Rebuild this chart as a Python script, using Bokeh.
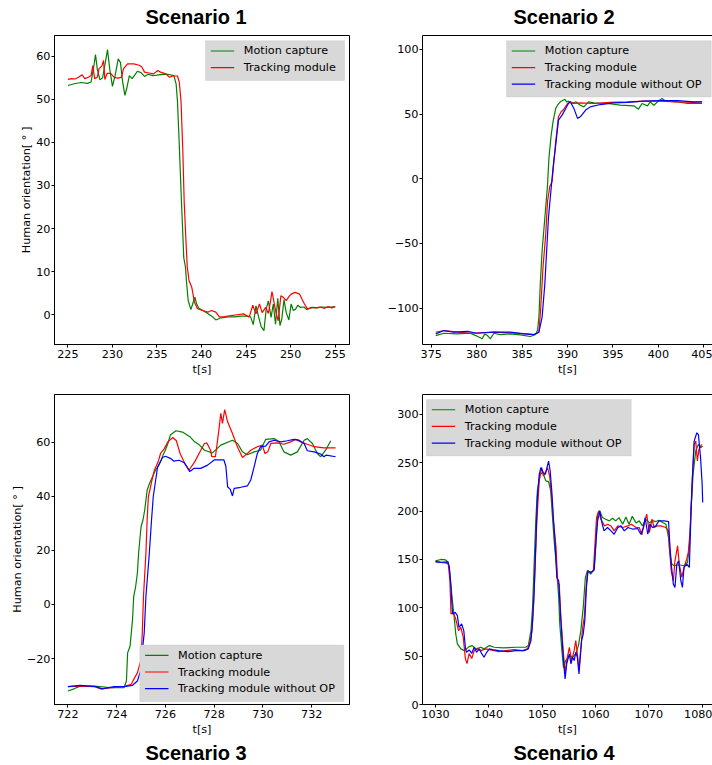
from bokeh.plotting import figure
from bokeh.layouts import column, row
from bokeh.models import Range1d, FixedTicker, LinearAxis, BoxAnnotation, Label
from bokeh.embed import file_html
from bokeh.resources import INLINE

# ---------------- data ----------------
SERIES_NAMES = ["Motion capture", "Tracking module", "Tracking module without OP"]
SERIES_COLORS = ["#008000", "#ff0000", "#0000ff"]
TITLES = ["Scenario 1", "Scenario 2", "Scenario 3", "Scenario 4"]
X_LABEL = "t[s]"
Y_LABEL = "Human orientation[ ° ]"

# Scenario 1
s1_mocap_t = [225.0, 225.7, 226.5, 227.2, 227.6, 227.9, 228.1, 228.3, 228.6, 228.9, 229.2, 229.45, 229.7, 230.0,
              230.3, 230.65, 230.9, 231.15, 231.4, 231.6, 231.9, 232.2, 232.5, 232.8, 233.2, 233.6, 234.0, 234.5,
              235.0, 235.6, 236.2, 236.9, 237.15, 237.3, 237.45, 237.6, 237.75, 237.9, 238.0, 238.2, 238.3, 238.5,
              238.8, 239.0, 239.25, 239.45, 239.7, 240.3, 240.9, 241.3, 241.6, 242.2, 243.0, 243.7, 244.4, 245.0,
              245.5, 245.8, 246.1, 246.4, 246.7, 247.0, 247.25, 247.5, 247.8, 248.05, 248.3, 248.55, 248.8, 249.0,
              249.25, 249.5, 249.8, 250.05, 250.3, 250.55, 250.8, 251.1, 251.5, 251.8, 252.1, 252.5, 253.0, 253.5,
              254.0, 254.5, 255.0]
s1_mocap_v = [53.2, 53.6, 53.9, 53.7, 54.0, 57.5, 60.4, 57.0, 54.5, 55.0, 58.5, 61.5, 57.0, 53.0,
              55.5, 59.4, 58.5, 54.0, 50.9, 52.5, 55.5, 54.8, 55.6, 56.5, 56.2, 55.3, 55.8, 55.5,
              55.6, 55.8, 55.8, 55.5, 53.5, 49.4, 42.0, 34.0, 26.0, 18.7, 13.3, 11.0, 7.9, 3.3,
              1.2, 2.5, 4.1, 2.5, 1.5, 0.8, 0.0, -0.6, -1.2, -0.7, -0.5, -0.5, -0.3, -0.3,
              -0.5, -2.3, 2.1, -0.5, -2.8, -3.7, 1.3, 3.2, -0.6, 2.5, -2.2, 3.8, -2.5, -1.0,
              3.5, 0.5, -1.2, 2.5, 1.0, 1.3, 2.2, 1.7, 1.8, 1.2, 1.5, 1.7, 1.6, 1.8,
              1.7, 1.8, 1.9]
s1_track_t = [225.0, 225.4, 225.8, 226.2, 226.6, 226.9, 227.3, 227.6, 227.8, 228.0, 228.3, 228.5, 228.8, 229.0,
              229.15, 229.4, 229.8, 230.2, 230.6, 231.0, 231.25, 231.7, 232.4, 233.0, 233.3, 233.6, 234.1, 234.6,
              235.1, 235.4, 236.0, 236.4, 236.8, 237.3, 237.5, 237.7, 237.9, 238.05, 238.25, 238.4, 238.6, 238.9,
              239.2, 239.55, 240.1, 240.7, 241.1, 241.6, 242.0, 242.6, 243.3, 244.0, 244.7, 245.35, 245.75, 246.1,
              246.5, 246.8, 247.2, 247.5, 247.75, 247.9, 248.1, 248.35, 248.6, 248.9, 249.2, 249.5, 249.8, 250.05,
              250.5, 251.0, 251.3, 251.55, 251.9, 252.3, 252.8, 253.3, 253.8, 254.2, 254.6, 255.0]
s1_track_v = [54.6, 54.8, 54.7, 55.1, 55.7, 54.8, 55.1, 55.5, 57.8, 54.8, 55.1, 57.1, 57.7, 59.0,
              54.6, 56.0, 56.0, 55.1, 54.9, 55.1, 57.1, 58.2, 58.2, 57.9, 57.5, 56.3, 56.1, 55.9,
              56.7, 56.3, 55.9, 55.1, 55.4, 55.4, 54.0, 49.4, 37.9, 26.3, 17.1, 11.0, 7.9, 6.4,
              2.9, 1.4, 1.0, 0.6, 1.0, 0.6, -0.5, -0.4, -0.2, 0.0, 0.2, -0.5, 2.2, 0.2,
              2.5, 0.5, 1.7, 0.3, 3.3, 5.4, 3.3, 0.5, -1.4, 4.4, 4.0, 3.3, 4.2, 4.8,
              5.2, 4.8, 3.5, 2.5, 1.3, 1.7, 1.6, 1.8, 1.5, 1.9, 1.6, 1.9]

# Scenario 2
s2_mocap_t = [375.5, 376.4, 377.8, 379.3, 379.9, 380.6, 380.9, 381.2, 381.5, 381.9, 382.6, 383.7, 384.8, 385.9,
              386.5, 386.7, 386.85, 387.0, 387.2, 387.5, 387.8, 387.95, 388.2, 388.4, 388.7, 388.9, 389.2, 389.7,
              389.9, 390.1, 390.5, 390.9, 391.4, 391.8, 392.3, 392.9, 394.4, 395.8, 397.3, 397.8, 398.2, 398.8,
              399.1, 399.5, 399.9, 400.4, 400.8, 402.1, 403.2, 404.8]
s2_mocap_v = [-121.3, -119.5, -120.0, -119.5, -121.3, -123.8, -120.0, -121.3, -123.8, -119.5, -120.5, -120.0, -120.8, -122.0,
              -120.5, -117.0, -107.0, -81.5, -55.9, -30.3, -4.6, 15.9, 33.8, 44.0, 54.4, 56.9, 59.5, 61.5,
              59.5, 60.0, 58.2, 59.5, 56.9, 55.6, 59.5, 58.7, 58.2, 56.9, 56.4, 53.8, 58.2, 56.4,
              59.5, 56.9, 59.5, 62.0, 60.0, 59.5, 58.2, 58.2]
s2_track_t = [375.5, 376.4, 377.9, 379.3, 381.9, 384.5, 385.6, 386.3, 386.85, 387.05, 387.3, 387.6, 387.8, 388.05,
              388.3, 388.5, 388.7, 388.9, 389.0, 389.3, 389.6, 390.0, 390.3, 390.7, 391.4, 392.9, 394.7, 396.6,
              398.4, 400.2, 402.0, 403.9, 404.8]
s2_track_v = [-118.7, -117.4, -118.7, -119.5, -118.7, -119.5, -120.0, -120.5, -118.7, -100.0, -68.5, -42.9, -17.4, -5.9,
              -2.1, 13.3, 28.7, 41.5, 47.9, 51.8, 53.8, 58.2, 59.5, 58.2, 58.7, 58.2, 59.0, 59.5,
              60.0, 60.0, 59.5, 59.0, 59.5]
s2_noop_t = [375.5, 376.4, 377.5, 379.0, 380.0, 381.9, 383.7, 385.2, 386.3, 386.85, 387.2, 387.5, 387.7, 387.9,
             388.2, 388.4, 388.7, 388.9, 389.0, 389.4, 389.8, 390.1, 390.3, 390.7, 391.1, 391.4, 392.0, 392.5,
             393.6, 395.1, 396.6, 398.4, 400.2, 402.1, 403.9, 404.8]
s2_noop_v = [-120.0, -117.4, -118.7, -118.0, -119.5, -118.7, -118.7, -120.0, -120.5, -118.7, -107.0, -81.5, -55.9, -30.3,
             -7.2, 8.2, 26.2, 39.0, 45.4, 49.2, 54.4, 58.2, 59.5, 54.4, 46.7, 47.9, 53.1, 55.6,
             57.4, 58.7, 59.0, 60.0, 60.5, 60.5, 59.5, 59.5]

# Scenario 3
s3_mocap_t = [722.0, 722.25, 722.5, 723.1, 723.8, 724.3, 724.4, 724.45, 724.55, 724.6, 724.65, 724.7, 724.78, 724.85,
              724.9, 725.0, 725.08, 725.15, 725.25, 725.35, 725.5, 725.6, 725.7, 725.8, 725.9, 726.0, 726.1, 726.2,
              726.43, 726.7, 727.0, 727.2, 727.4, 727.6, 727.93, 728.27, 728.75, 728.96, 729.16, 729.36, 729.64, 729.9,
              730.11, 730.46, 730.66, 730.86, 731.14, 731.41, 731.69, 731.82, 732.03, 732.23, 732.37, 732.57, 732.78]
s3_mocap_v = [-32.0, -31.2, -30.2, -30.2, -30.8, -30.8, -28.3, -17.9, -15.4, -10.5, -5.6, 3.0, 6.7, 11.6,
              19.0, 28.8, 31.2, 34.9, 42.3, 44.8, 47.8, 49.7, 50.9, 52.7, 55.2, 57.1, 59.5, 62.6,
              64.2, 63.7, 62.0, 60.1, 58.9, 57.0, 56.0, 58.9, 60.7, 59.5, 56.4, 55.3, 56.4, 57.0,
              61.0, 61.3, 60.1, 56.4, 55.2, 56.4, 60.7, 61.3, 59.5, 55.8, 54.6, 57.0, 60.5]
s3_track_t = [722.0, 722.5, 723.1, 723.35, 723.8, 724.3, 724.6, 724.7, 724.85, 725.0, 725.05, 725.1, 725.2, 725.25,
              725.3, 725.45, 725.55, 725.7, 725.8, 725.95, 726.1, 726.3, 726.45, 726.6, 726.8, 726.97, 727.2, 727.45,
              727.6, 727.7, 727.85, 727.9, 728.05, 728.2, 728.27, 728.34, 728.43, 728.55, 728.75, 728.95, 729.16, 729.3,
              729.5, 729.77, 729.98, 730.08, 730.2, 730.32, 730.6, 730.86, 731.14, 731.34, 731.55, 731.82, 732.1, 732.5,
              732.98]
s3_track_v = [-30.4, -30.2, -30.4, -31.2, -30.8, -30.4, -29.5, -27.7, -25.3, -20.4, -10.5, 3.0, 19.0, 31.2,
              39.8, 46.0, 49.7, 52.7, 55.8, 57.5, 60.1, 61.7, 60.5, 55.8, 52.0, 49.7, 52.7, 57.0,
              59.5, 59.7, 57.0, 54.6, 54.6, 65.0, 70.6, 66.9, 72.0, 67.5, 63.2, 58.3, 54.3, 55.3,
              57.0, 58.3, 58.9, 55.8, 56.4, 59.5, 59.7, 59.2, 60.1, 61.0, 60.1, 59.2, 58.3, 57.9,
              57.9]
s3_noop_t = [722.0, 722.5, 723.15, 723.4, 723.9, 724.3, 724.65, 724.85, 725.0, 725.03, 725.13, 725.2, 725.33, 725.43,
             725.5, 725.6, 725.68, 725.88, 726.0, 726.2, 726.34, 726.56, 726.77, 727.0, 727.18, 727.45, 727.73, 728.0,
             728.4, 728.48, 728.55, 728.66, 728.75, 728.82, 729.09, 729.36, 729.5, 729.64, 729.77, 729.9, 730.11, 730.25,
             730.46, 730.73, 731.0, 731.27, 731.48, 731.69, 731.82, 732.1, 732.37, 732.5, 732.6, 732.98]
s3_noop_v = [-30.4, -29.9, -30.4, -31.2, -30.4, -30.4, -29.9, -28.3, -24.0, -19.1, -10.5, 3.0, 17.7, 31.2,
             39.8, 46.0, 50.9, 54.3, 54.8, 54.0, 53.0, 53.3, 52.4, 49.1, 50.3, 50.3, 51.5, 53.4,
             53.4, 51.0, 43.5, 42.5, 40.1, 42.9, 43.3, 43.8, 46.0, 50.9, 55.8, 58.3, 58.5, 60.1,
             60.7, 60.1, 60.5, 61.0, 60.7, 59.5, 56.8, 56.4, 55.6, 54.6, 55.2, 54.6]

# Scenario 4
s4_mocap_t = [1030.0, 1031.0, 1031.9, 1032.4, 1032.7, 1033.1, 1033.5, 1033.8, 1034.1, 1034.75, 1035.4, 1035.7, 1036.3,
              1036.9, 1037.6, 1038.5, 1039.1, 1040.1, 1041.0, 1042.6, 1045.1, 1046.9, 1047.4, 1047.9, 1048.2, 1048.5,
              1048.8, 1049.1, 1049.6, 1050.1, 1050.7, 1051.2, 1051.6, 1051.9, 1052.25, 1052.7, 1053.1, 1053.3, 1053.7,
              1054.0, 1054.4, 1055.1, 1055.7, 1056.3, 1056.8, 1057.25, 1057.7, 1058.1, 1058.5, 1059.1, 1059.75, 1060.1,
              1060.4, 1060.8, 1061.3, 1061.9, 1062.6, 1063.2, 1063.8, 1064.4, 1065.1, 1065.7, 1066.3, 1066.9, 1067.6,
              1068.2, 1068.8, 1069.4, 1070.1, 1070.7, 1071.3, 1071.9, 1072.6, 1073.2, 1073.7, 1073.9, 1074.3, 1074.75,
              1075.7, 1076.6, 1077.25, 1077.6, 1077.9, 1078.3, 1078.8, 1079.3, 1079.75, 1080.1]
s4_mocap_v = [148.6, 150.0, 149.5, 146.9, 134.9, 110.8, 90.1, 72.9, 62.6, 57.5, 55.7, 57.0, 59.9,
              60.9, 57.5, 59.2, 57.5, 60.9, 59.2, 58.5, 59.2, 59.2, 60.9, 76.4, 100.5, 145.2,
              190.0, 220.9, 238.1, 239.8, 231.2, 230.5, 220.9, 196.8, 169.3, 141.7, 110.8, 83.3, 55.7,
              38.0, 45.4, 50.6, 48.9, 52.3, 60.9, 76.4, 100.5, 131.4, 138.3, 134.9, 140.0, 169.3,
              196.8, 200.2, 193.3, 191.6, 189.9, 192.7, 189.9, 193.3, 186.5, 194.0, 186.5, 194.6, 187.8,
              189.9, 184.7, 191.6, 187.8, 190.2, 189.2, 190.6, 188.2, 186.5, 172.7, 159.0, 145.2, 143.5,
              144.5, 143.5, 146.9, 162.4, 200.2, 238.1, 262.2, 269.0, 265.6, 267.4]
s4_track_t = [1030.0, 1031.0, 1031.9, 1032.4, 1032.7, 1032.9, 1033.3, 1033.8, 1034.3, 1034.75, 1035.2, 1035.6, 1035.9,
              1036.3, 1036.8, 1037.25, 1037.9, 1038.5, 1039.4, 1040.3, 1041.9, 1043.2, 1044.75, 1046.3, 1047.25, 1047.7,
              1048.1, 1048.4, 1048.7, 1049.0, 1049.45, 1049.9, 1050.25, 1050.6, 1051.0, 1051.4, 1051.8, 1052.1, 1052.6,
              1052.9, 1053.2, 1053.5, 1053.9, 1054.3, 1054.6, 1055.1, 1055.5, 1056.0, 1056.3, 1056.6, 1056.9, 1057.25,
              1057.6, 1057.9, 1058.2, 1058.5, 1059.1, 1059.6, 1059.9, 1060.2, 1060.6, 1061.0, 1061.7, 1062.3, 1062.9,
              1063.5, 1064.2, 1065.1, 1066.1, 1066.7, 1067.6, 1068.2, 1068.7, 1069.1, 1069.6, 1070.1, 1070.6, 1071.0,
              1071.6, 1072.25, 1073.2, 1073.7, 1073.9, 1074.2, 1074.6, 1074.9, 1075.4, 1075.7, 1076.2, 1076.6, 1077.1,
              1077.4, 1077.75, 1078.1, 1078.5, 1078.8, 1079.1, 1079.4, 1079.9]
s4_track_v = [148.0, 146.9, 146.5, 145.2, 128.0, 93.6, 95.3, 88.4, 76.4, 79.8, 69.5, 47.5, 42.3,
              52.6, 47.5, 55.7, 57.5, 55.7, 57.5, 56.5, 54.7, 55.7, 56.8, 55.7, 57.5, 64.3,
              76.4, 103.9, 145.2, 190.0, 231.2, 245.0, 236.4, 239.8, 245.0, 236.4, 214.0, 190.0, 162.4,
              126.3, 124.5, 90.1, 59.2, 31.7, 45.4, 59.2, 45.4, 55.7, 66.0, 52.3, 35.1, 59.2,
              79.8, 90.1, 117.6, 138.3, 136.6, 138.3, 165.8, 193.3, 200.2, 191.6, 184.7, 186.5, 184.7,
              179.6, 184.7, 183.0, 184.7, 186.5, 183.0, 183.0, 175.5, 186.5, 196.8, 177.8, 191.6, 183.0,
              184.7, 184.7, 183.0, 179.6, 159.0, 138.3, 128.0, 148.6, 164.1, 145.2, 131.4, 141.7, 150.3,
              157.2, 179.6, 227.8, 269.0, 272.4, 251.8, 263.9, 269.0]
s4_noop_t = [1030.0, 1031.0, 1032.3, 1032.6, 1032.9, 1033.2, 1033.7, 1034.1, 1034.4, 1034.9, 1035.3, 1035.6, 1035.8,
             1036.3, 1036.8, 1037.25, 1037.7, 1038.2, 1038.7, 1039.1, 1039.6, 1040.1, 1041.0, 1041.9, 1043.5, 1045.1,
             1046.6, 1047.4, 1047.9, 1048.2, 1048.5, 1048.8, 1049.1, 1049.45, 1049.75, 1050.2, 1050.6, 1050.9, 1051.2,
             1051.5, 1051.8, 1052.1, 1052.4, 1052.75, 1053.1, 1053.4, 1053.7, 1054.0, 1054.3, 1054.6, 1055.1, 1055.4,
             1055.7, 1056.0, 1056.3, 1056.6, 1056.9, 1057.4, 1057.7, 1058.0, 1058.3, 1058.6, 1059.1, 1059.75, 1060.1,
             1060.4, 1060.8, 1061.2, 1061.6, 1062.25, 1062.9, 1063.5, 1064.2, 1064.8, 1065.4, 1066.1, 1067.0, 1067.9,
             1068.5, 1069.0, 1069.3, 1069.8, 1070.2, 1070.7, 1071.3, 1071.9, 1072.9, 1073.7, 1073.9, 1074.2, 1074.6,
             1074.9, 1075.25, 1075.6, 1076.0, 1076.3, 1076.6, 1077.1, 1077.6, 1077.9, 1078.2, 1078.5, 1079.0, 1079.3,
             1079.7, 1080.0, 1080.1]
s4_noop_v = [147.6, 146.9, 147.6, 141.7, 121.1, 93.6, 95.3, 91.9, 79.8, 83.3, 76.4, 59.2, 54.0,
             56.4, 53.0, 59.2, 54.0, 57.5, 52.3, 48.9, 54.0, 57.5, 56.4, 55.7, 54.7, 55.7,
             55.7, 57.5, 66.0, 86.7, 117.6, 165.8, 214.0, 238.1, 245.0, 239.8, 238.1, 245.0, 251.8,
             241.5, 220.9, 193.3, 169.3, 131.4, 128.0, 97.0, 69.5, 45.4, 26.5, 42.0, 52.3, 42.0,
             48.9, 45.4, 54.0, 48.9, 31.7, 66.0, 72.9, 86.7, 121.1, 138.3, 136.6, 139.0, 169.3,
             190.0, 200.2, 188.2, 179.6, 183.0, 179.6, 176.1, 183.0, 184.7, 179.6, 183.0, 181.3, 182.0,
             176.1, 183.0, 193.3, 176.1, 186.5, 183.0, 184.7, 189.9, 189.9, 189.2, 169.3, 145.2, 124.5,
             121.1, 145.2, 148.6, 128.0, 121.1, 141.7, 145.2, 141.7, 196.8, 238.1, 272.4, 281.0, 279.0,
             255.3, 227.8, 208.9]

# axis ticks and tick labels
s1_xticks = [225, 230, 235, 240, 245, 250, 255]
s1_xlabels = ["225", "230", "235", "240", "245", "250", "255"]
s1_yticks = [0, 10, 20, 30, 40, 50, 60]
s1_ylabels = ["0", "10", "20", "30", "40", "50", "60"]
s2_xticks = [375, 380, 385, 390, 395, 400, 405]
s2_xlabels = ["375", "380", "385", "390", "395", "400", "405"]
s2_yticks = [-100, -50, 0, 50, 100]
s2_ylabels = ["\u2212100", "\u221250", "0", "50", "100"]
s3_xticks = [722, 724, 726, 728, 730, 732]
s3_xlabels = ["722", "724", "726", "728", "730", "732"]
s3_yticks = [-20, 0, 20, 40, 60]
s3_ylabels = ["\u221220", "0", "20", "40", "60"]
s4_xticks = [1030, 1040, 1050, 1060, 1070, 1080]
s4_xlabels = ["1030", "1040", "1050", "1060", "1070", "1080"]
s4_yticks = [0, 50, 100, 150, 200, 250, 300]
s4_ylabels = ["0", "50", "100", "150", "200", "250", "300"]

# ---------------- styling helpers ----------------
FONT = "DejaVu Sans"
FSIZE = "11.2px"
FRAME_H = 311


def style_axis(ax, ticks, labels, label_text, label_standoff, axis_label_standoff):
    ax.ticker = FixedTicker(ticks=ticks)
    ax.major_label_overrides = {t: l for t, l in zip(ticks, labels)}
    ax.major_tick_in = 0
    ax.major_tick_out = 3
    ax.minor_tick_in = 0
    ax.minor_tick_out = 0
    ax.major_tick_line_color = "black"
    ax.axis_line_color = "black"
    ax.major_label_text_font = FONT
    ax.major_label_text_font_size = FSIZE
    ax.major_label_text_color = "black"
    ax.major_label_standoff = label_standoff
    if label_text is not None:
        ax.axis_label = label_text
        ax.axis_label_text_font = FONT
        ax.axis_label_text_font_size = FSIZE
        ax.axis_label_text_font_style = "normal"
        ax.axis_label_text_color = "black"
        ax.axis_label_standoff = axis_label_standoff


def add_legend(p, xr, yr, frame_w, box, names, colors):
    """Legend box placed in frame pixels (left, top, width), converted through the ranges."""
    left, top, width = box
    n = len(names)
    height = 6.5 + 16.7 * n

    def fx(px):
        return xr[0] + px / frame_w * (xr[1] - xr[0])

    def fy(py):
        return yr[1] - py / FRAME_H * (yr[1] - yr[0])

    p.add_layout(BoxAnnotation(left=fx(left), right=fx(left + width), top=fy(top), bottom=fy(top + height),
                               fill_color="#d8d8d8", fill_alpha=1.0, line_color="#bdbdbd", line_width=1,
                               level="annotation"))
    for i, (name, color) in enumerate(zip(names, colors)):
        cy = top + 10.3 + 16.7 * i
        p.line(x=[fx(left + 5.3), fx(left + 17.0), fx(left + 28.7)], y=[fy(cy), fy(cy + 0.02), fy(cy)],
               line_color=color, line_width=1.2, level="overlay")
        p.add_layout(Label(x=fx(left + 38.3), y=fy(cy), text=name, text_font=FONT, text_font_size=FSIZE,
                           text_color="black", text_baseline="middle", text_align="left", level="overlay"))


def make_panel(title, title_loc, title_standoff, xr, yr, width, height, mb, series,
               xt, xl, yt, yl, ylab, legend_box, right_cut):
    p = figure(width=width, height=height, x_range=Range1d(*xr), y_range=Range1d(*yr),
               output_backend="svg", toolbar_location=None, title=title, title_location=title_loc,
               min_border_left=mb[0], min_border_right=mb[1], min_border_top=mb[2], min_border_bottom=mb[3])
    p.title.text_font = "Liberation Sans"
    p.title.text_font_size = "20px"
    p.title.text_font_style = "bold"
    p.title.text_color = "black"
    p.title.align = "left"
    p.title.offset = 91
    p.title.standoff = title_standoff
    if title_loc == "above":
        p.title.vertical_align = "top"
    p.xgrid.visible = False
    p.ygrid.visible = False
    p.background_fill_color = "white"
    p.border_fill_color = "white"
    xaxis = p.below[0]
    yaxis = p.left[0]
    style_axis(xaxis, xt, xl, X_LABEL, 2, 2)
    style_axis(yaxis, yt, yl, ylab, 1, 0)
    frame_w = width - mb[0] - mb[1]
    if right_cut:
        # the reference crops these panels at the right edge: no right border line
        p.outline_line_color = None
        top_ax = LinearAxis(ticker=FixedTicker(ticks=[]), major_tick_out=0, major_tick_in=0,
                            minor_tick_out=0, minor_tick_in=0, major_label_standoff=0,
                            axis_line_color="black")
        p.add_layout(top_ax, "above")
    else:
        p.outline_line_color = "black"
        p.outline_line_width = 1
        p.outline_line_alpha = 1.0
    for (t, v), color in zip(series, SERIES_COLORS):
        p.line(t, v, line_color=color, line_alpha=1.0, line_width=1.2)
    add_legend(p, xr, yr, frame_w, legend_box, SERIES_NAMES[:len(series)], SERIES_COLORS[:len(series)])
    return p


# top row: 0..380, frames 33..344 ; bottom row: 380..765, frames 394..705
# left column: 0..384, frames 54..349 ; right column: 384..712, frames 422..712
p1 = make_panel(TITLES[0], "above", 10.5, (223.5, 256.6), (-6.9, 64.8), 384, 380, (54, 35, 33, 36),
                [(s1_mocap_t, s1_mocap_v), (s1_track_t, s1_track_v)],
                s1_xticks, s1_xlabels, s1_yticks, s1_ylabels, Y_LABEL, (151, 5.3, 139), False)
p2 = make_panel(TITLES[1], "above", 10.5, (374.04, 405.95), (-128.2, 110.8), 328, 380, (38, 0, 33, 36),
                [(s2_mocap_t, s2_mocap_v), (s2_track_t, s2_track_v), (s2_noop_t, s2_noop_v)],
                s2_xticks, s2_xlabels, s2_yticks, s2_ylabels, None, (84, 5.3, 204.7), True)
p3 = make_panel(TITLES[2], "below", 3, (721.45, 733.55), (-37.0, 77.6), 384, 385, (54, 35, 14, 60),
                [(s3_mocap_t, s3_mocap_v), (s3_track_t, s3_track_v), (s3_noop_t, s3_noop_v)],
                s3_xticks, s3_xlabels, s3_yticks, s3_ylabels, Y_LABEL, (85.3, 251.4, 204), False)
p4 = make_panel(TITLES[3], "below", 3, (1027.56, 1081.94), (0, 320.6), 328, 385, (38, 0, 14, 60),
                [(s4_mocap_t, s4_mocap_v), (s4_track_t, s4_track_v), (s4_noop_t, s4_noop_v)],
                s4_xticks, s4_xlabels, s4_yticks, s4_ylabels, None, (4, 5, 204.7), True)

layout = column(row(p1, p2), row(p3, p4))

open("out.html", "w").write(file_html(layout, INLINE))
